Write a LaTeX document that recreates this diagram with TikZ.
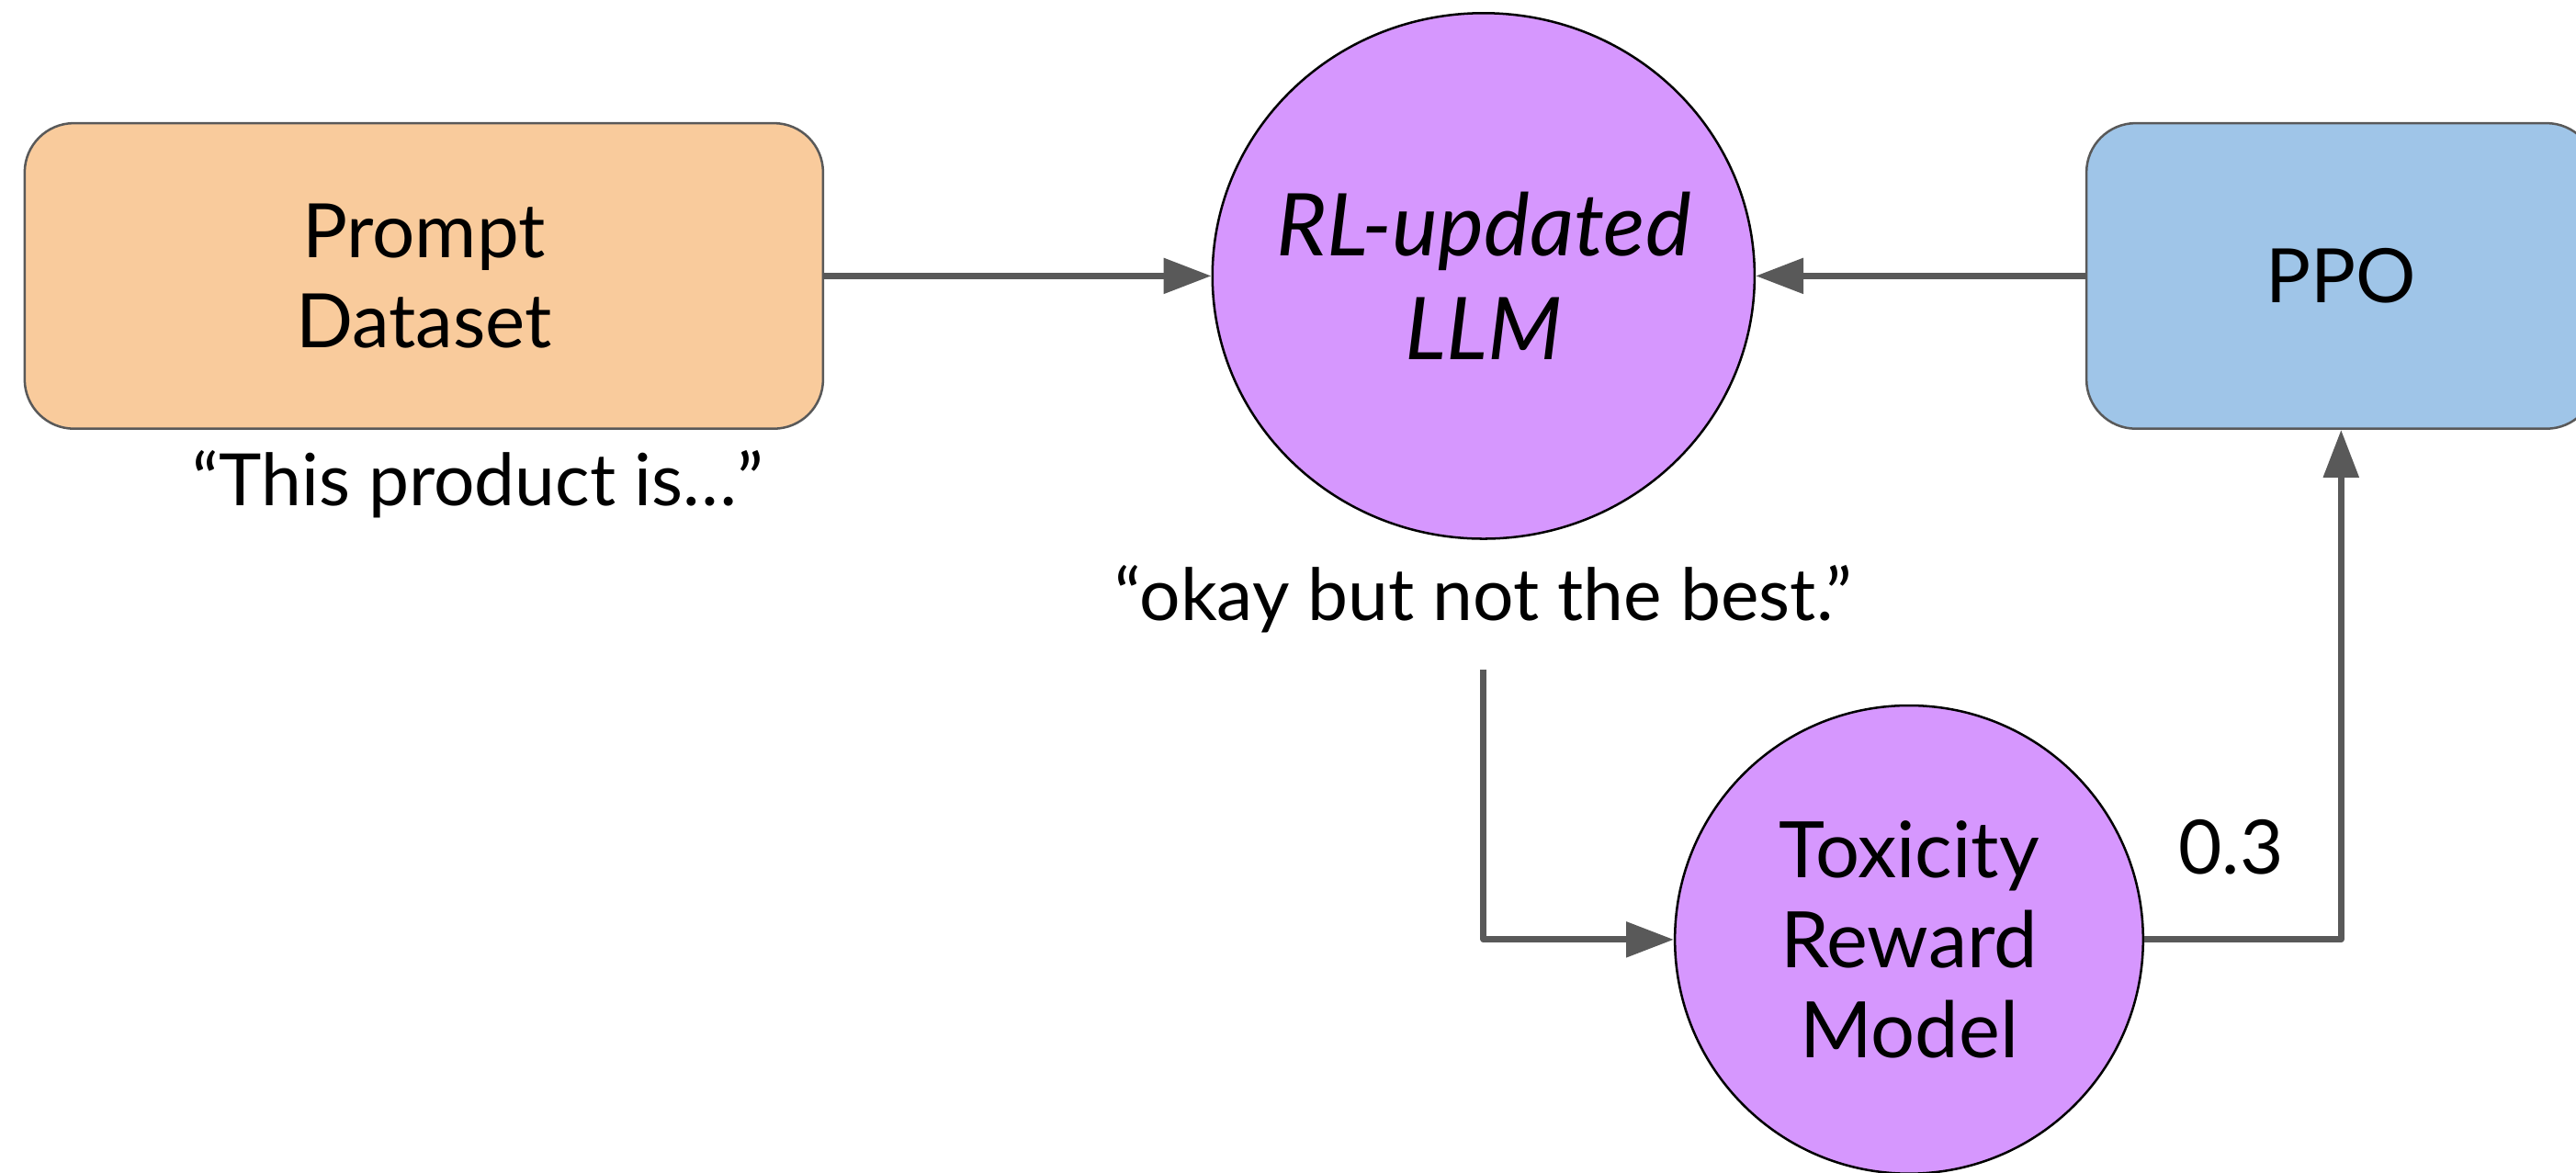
\documentclass[tikz,border=0pt]{standalone}
\usepackage{fontspec}
\setmainfont{Lato}
\usepackage{tikz}
\usetikzlibrary{
  arrows.meta,
  positioning,
  shapes.geometric
}
\definecolor{promptorange}{HTML}{F9CB9C}
\definecolor{ppoblue}{HTML}{9FC5E8}
\definecolor{modelpurple}{HTML}{D697FE}
\definecolor{edgegray}{HTML}{595959}
\tikzset{
  promptbox/.style={draw=edgegray, rounded corners=0.3cm, fill=promptorange,
    minimum width=4.86cm, minimum height=1.86cm,
    align=center, font=\fontsize{13}{15.6}\selectfont},
  ppobox/.style={draw=edgegray, rounded corners=0.3cm, fill=ppoblue,
    minimum width=3.1cm, minimum height=1.86cm,
    align=center, font=\fontsize{13}{15.6}\selectfont},
  modelbubble/.style={draw=black, ellipse, fill=modelpurple, inner sep=0pt,
    align=center, font=\fontsize{13.5}{15.6}\selectfont},
  saytext/.style={align=center, font=\fontsize{12.5}{15}\selectfont},
  arr/.style={-{Triangle[length=0.29cm, width=0.21cm]}, line width=1.1pt,
    draw=edgegray, line join=round},
}

\begin{document}
\begin{tikzpicture}
  \useasboundingbox (0,0) rectangle (15.68,7.14);
  \clip (0,0) rectangle (15.68,7.14);

  % Prompt
  \node[promptbox] (prompt) at (2.58,5.46) {Prompt\\Dataset};
  \node[saytext, below=0cm of prompt, xshift=0.33cm] (promptsay)
    {“This product is…”};

  % LLM being updated
  \node[modelbubble, inner xsep=-0.1cm, minimum width=3.3cm,
        minimum height=3.2cm,
        font=\fontsize{15}{17.9}\selectfont\itshape] (llm)
    at (9.03,5.46) {RL-updated\\LLM};
  \node[saytext, below=0.03cm of llm] (llmsay) {“okay but not the best.”};
  \coordinate[below=0.1cm of llmsay] (tap);

  % PPO
  \node[ppobox] (ppo) at (14.25,5.46) {PPO};

  % Reward model
  \node[modelbubble, minimum size=2.85cm] (reward) at (11.62,1.42)
    {Toxicity\\Reward\\Model};
  \node[saytext, font=\fontsize{13}{15.6}\selectfont] (score)
    at (13.58,1.98) {0.3};

  % Arrows
  \draw[arr] (prompt.east) -- (llm.west);
  \draw[arr] (ppo.west) -- (llm.east);
  \draw[arr] (tap) |- (reward.west);
  \draw[arr] (reward.east) -| (ppo.south);
\end{tikzpicture}
\end{document}
